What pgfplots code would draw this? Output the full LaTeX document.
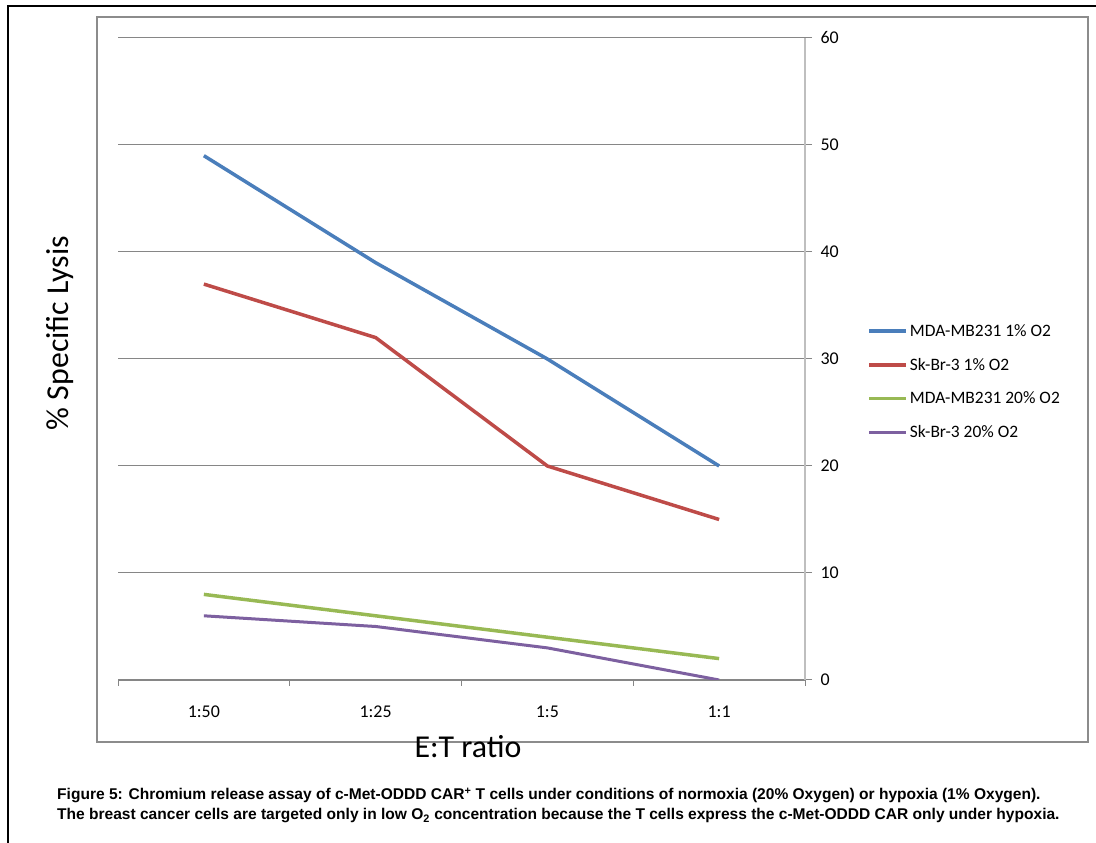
\documentclass[border=0pt]{standalone}
\usepackage{fontspec}
\setmainfont{Carlito}
\newfontfamily\arial{Liberation Sans}
\usepackage{pgfplots}
\pgfplotsset{compat=1.18}
\definecolor{cblue}{HTML}{4A7EBB}
\definecolor{cred}{HTML}{BE4B48}
\definecolor{cgreen}{HTML}{98B954}
\definecolor{cpurple}{HTML}{7D60A0}
\definecolor{gridgray}{HTML}{868686}
\definecolor{axgray}{HTML}{BFBFBF}
\definecolor{framegray}{HTML}{8C8C8C}
\begin{document}
\begin{tikzpicture}[x=1bp,y=1bp]
\useasboundingbox (0,0) rectangle (1096,843);
\draw[line width=2.5bp] (8,-20) -- (8,837) -- (1120,837);
\draw[framegray, line width=1.2bp] (97,101) rectangle (1088,826);
\begin{axis}[at={(118bp,163bp)}, anchor=south west, scale only axis,
  width=687bp, height=642bp,
  xmin=-0.5, xmax=3.5, ymin=0, ymax=60,
  axis x line=bottom, axis y line=right, axis line style={-},
  x axis line style={gridgray, line width=1.5bp},
  y axis line style={axgray, line width=2bp},
  xtick={0,1,2,3}, xticklabels={1:50,1:25,1:5,1:1},
  minor xtick={-0.5,0.5,1.5,2.5,3.5},
  ytick={0,10,...,60},
  ymajorgrids, major grid style={gridgray, line width=1bp},
  tick align=outside, major tick length=7bp, minor tick length=6bp,
  major x tick style={draw=none},
  minor x tick style={gridgray, line width=1bp},
  y tick style={gridgray, line width=1bp},
  /pgf/number format/assume math mode=true,
  tick label style={font=\fontsize{18}{20}\selectfont},
  yticklabel style={xshift=5bp},
  xticklabel style={yshift=-15bp},
  xlabel={E:T ratio}, ylabel={\% Specific Lysis},
  every axis x label/.style={at={(axis description cs:0.5095,-0.1044)}, anchor=center, font=\fontsize{32}{36}\selectfont},
  every axis y label/.style={at={(axis description cs:-0.0844,0.5405)}, anchor=center, rotate=90, font=\fontsize{32}{36}\selectfont},
  legend style={at={(axis description cs:1.0905,0.5576)}, anchor=north west,
    draw=none, fill=none, inner sep=0pt, row sep=16.4bp,
    font=\fontsize{17.5}{20}\selectfont},
  legend cell align=left,
  legend image code/.code={\draw[#1] (0bp,0bp) -- (37bp,0bp);},
  every axis plot/.append style={line width=3.5bp},
]
\addplot[cblue] coordinates {(0,49) (1,39) (2,30) (3,20)};
\addlegendentry{MDA-MB231 1\% O2}
\addplot[cred] coordinates {(0,37) (1,32) (2,20) (3,15)};
\addlegendentry{Sk-Br-3 1\% O2}
\addplot[cgreen] coordinates {(0,8) (1,6) (2,4) (3,2)};
\addlegendentry{MDA-MB231 20\% O2}
\addplot[cpurple, line width=3bp] coordinates {(0,6) (1,5) (2,3) (3,0)};
\addlegendentry{Sk-Br-3 20\% O2}
\end{axis}
\node[anchor=base west, inner sep=0pt, font=\arial\bfseries\fontsize{15.6}{18}\selectfont] at (57,43) {Figure 5: Chromium release assay of c-Met-ODDD CAR\textsuperscript{+} T cells under conditions of normoxia (20\% Oxygen) or hypoxia (1\% Oxygen).};
\node[anchor=base west, inner sep=0pt, font=\arial\bfseries\fontsize{15.6}{18}\selectfont] at (57,23) {The breast cancer cells are targeted only in low O\textsubscript{2} concentration because the T cells express the c-Met-ODDD CAR only under hypoxia.};
\end{tikzpicture}
\end{document}
